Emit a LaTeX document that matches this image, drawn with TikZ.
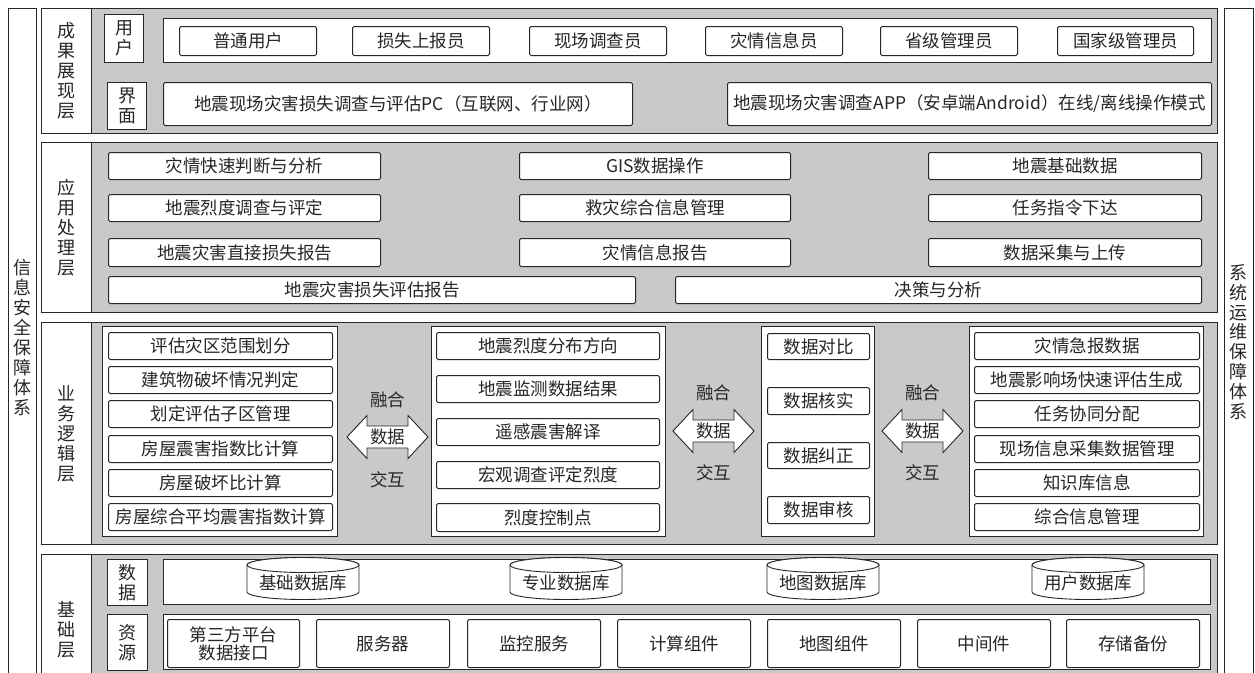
\documentclass[tikz,border=0pt]{standalone}
\usepackage{fontspec}
\setmainfont{Noto Sans CJK SC}
\newcommand\bx[7][]{\pgfmathsetmacro\myboxw{#5-#3}\pgfmathsetmacro\myboxh{#6-#4}%
  \node[box,inner sep=0pt,minimum width=\myboxw pt,minimum height=\myboxh pt,anchor=north west,#1] (#2) at (#3,#4) {#7};}
\newcommand\cyl[3]{% name cx text
  \draw[cylline] (#2-56,565) -- (#2-56,592) arc[start angle=180,end angle=0,x radius=56,y radius=7.5] -- (#2+56,565) arc[start angle=0,end angle=-180,x radius=56,y radius=7.5] -- cycle;
  \draw[cylline] (#2,565) ellipse[x radius=56,y radius=7.5];
  \node[txt] (#1) at (#2,583) {#3};}
\newcommand\darr[2]{% name cx cy
  \draw[cylline] (#2) ++(-40.5,0) -- ++(20,-21.5) -- ++(0,10.5) -- ++(41,0) -- ++(0,-10.5) -- ++(20,21.5) -- ++(-20,21.5) -- ++(0,-10.5) -- ++(-41,0) -- ++(0,10.5) -- cycle;
  \node[txt] (#1) at (#2) {数据};}
\begin{document}
\begin{tikzpicture}[x=1pt,y=-1pt,
  txt/.style={font=\fontsize{17.5}{20}\selectfont,text=black!85},
  box/.style={draw=black!85,fill=white,line width=1pt,rounded corners=1.5pt,txt},
  sq/.style={rounded corners=0pt},
  lay/.style={line width=1.3pt,fill=black!21,rounded corners=0pt},
  lab/.style={line width=1.1pt,rounded corners=0pt,align=center,font=\fontsize{18}{20}\selectfont},
  cylline/.style={draw=black!85,fill=white,line width=0.9pt},
]
\useasboundingbox (0,0) rectangle (1255,672);
% side columns
\bx[sq,line width=1.1pt]{secL}{8}{8}{36}{690}{}
\bx[sq,line width=1.1pt]{secR}{1224}{8}{1253}{690}{}
\node[txt,align=center,font=\fontsize{18}{19.9}\selectfont] (secLt) at (22,337.5) {信\\息\\安\\全\\保\\障\\体\\系};
\node[txt,align=center,font=\fontsize{18}{19.9}\selectfont] (secRt) at (1238.5,342) {系\\统\\运\\维\\保\\障\\体\\系};

% ===== Layer 1
\bx[lay]{L1}{41}{8}{1217}{133}{}
\bx[lab]{L1l}{41}{8}{91}{133}{成\\果\\展\\现\\层}
\bx[lab]{yh}{104}{14}{143}{62}{用\\户}
\bx[lab]{jm}{107}{82}{146}{129}{界\\面}
\bx[sq]{urow}{163}{18}{1211}{62}{}
\bx{u1}{179}{26}{316}{55}{普通用户}
\bx{u2}{352}{26}{489}{55}{损失上报员}
\bx{u3}{529}{26}{666}{55}{现场调查员}
\bx{u4}{705}{26}{842}{55}{灾情信息员}
\bx{u5}{880}{26}{1017}{55}{省级管理员}
\bx{u6}{1057}{26}{1193}{55}{国家级管理员}
\bx{pc}{163}{82}{632}{125}{地震现场灾害损失调查与评估PC（互联网、行业网）}
\bx{app}{727}{82}{1211}{125}{地震现场灾害调查APP（安卓端Android）在线/离线操作模式}

% ===== Layer 2
\bx[lay]{L2}{41}{142}{1217}{312}{}
\bx[lab]{L2l}{41}{142}{91}{312}{应\\用\\处\\理\\层}
\bx{a1}{108}{152}{380}{179}{灾情快速判断与分析}
\bx{a2}{108}{194}{380}{221}{地震烈度调查与评定}
\bx{a3}{108}{238}{380}{266}{地震灾害直接损失报告}
\bx{b1}{519}{152}{790}{179}{GIS数据操作}
\bx{b2}{519}{194}{790}{221}{救灾综合信息管理}
\bx{b3}{519}{238}{790}{266}{灾情信息报告}
\bx{c1}{928}{152}{1201}{179}{地震基础数据}
\bx{c2}{928}{194}{1201}{221}{任务指令下达}
\bx{c3}{928}{238}{1201}{266}{数据采集与上传}
\bx{a4}{108}{276}{635}{303}{地震灾害损失评估报告}
\bx{c4}{675}{276}{1201}{303}{决策与分析}

% ===== Layer 3
\bx[lay]{L3}{41}{322}{1217}{544}{}
\bx[lab]{L3l}{41}{322}{91}{544}{业\\务\\逻\\辑\\层}
\bx[sq]{g1}{102}{326}{337}{536}{}
\bx{g1a}{108}{332}{332}{359}{评估灾区范围划分}
\bx{g1b}{108}{366}{332}{393}{建筑物破坏情况判定}
\bx{g1c}{108}{400}{332}{427}{划定评估子区管理}
\bx{g1d}{108}{435}{332}{462}{房屋震害指数比计算}
\bx{g1e}{108}{469}{332}{496}{房屋破坏比计算}
\bx{g1f}{108}{503}{332}{530}{房屋综合平均震害指数计算}
\bx[sq]{g2}{431}{326}{665}{536}{}
\bx{g2a}{436}{332}{659}{359}{地震烈度分布方向}
\bx{g2b}{436}{375}{659}{402}{地震监测数据结果}
\bx{g2c}{436}{418}{659}{445}{遥感震害解译}
\bx{g2d}{436}{461}{659}{488}{宏观调查评定烈度}
\bx{g2e}{436}{503}{659}{531}{烈度控制点}
\bx[sq]{g3}{761}{326}{874}{536}{}
\bx{g3a}{767}{333}{869}{359}{数据对比}
\bx{g3b}{767}{387}{869}{414}{数据核实}
\bx{g3c}{767}{442}{869}{468}{数据纠正}
\bx{g3d}{767}{496}{869}{523}{数据审核}
\bx[sq]{g4}{969}{326}{1203}{536}{}
\bx{g4a}{974}{332}{1199}{359}{灾情急报数据}
\bx{g4b}{974}{366}{1199}{393}{地震影响场快速评估生成}
\bx{g4c}{974}{400}{1199}{427}{任务协同分配}
\bx{g4d}{974}{435}{1199}{462}{现场信息采集数据管理}
\bx{g4e}{974}{469}{1199}{496}{知识库信息}
\bx{g4f}{974}{503}{1199}{530}{综合信息管理}
\darr{ar1}{387.5,437}
\darr{ar2}{713.5,431}
\darr{ar3}{922.5,431}
\node[txt] (rh1) at (387.5,400) {融合};
\node[txt] (jh1) at (387.5,480) {交互};
\node[txt] (rh2) at (713.5,393) {融合};
\node[txt] (jh2) at (713.5,473) {交互};
\node[txt] (rh3) at (922.5,393) {融合};
\node[txt] (jh3) at (922.5,473) {交互};

% ===== Layer 4
\bx[lay]{L4}{41}{554}{1217}{690}{}
\bx[lab]{L4l}{41}{554}{91}{690}{}
\node[txt,align=center,font=\fontsize{18}{20}\selectfont] (L4t) at (66,630) {基\\础\\层};
\bx[lab]{sj}{107}{559}{147}{605}{数\\据}
\bx[lab]{zy}{107}{614}{147}{670}{资\\源}
\bx[sq]{drow}{163}{559}{1210}{604}{}
\bx[sq]{rrow}{163}{614}{1210}{669}{}
\cyl{db1}{303}{基础数据库}
\cyl{db2}{566}{专业数据库}
\cyl{db3}{823}{地图数据库}
\cyl{db4}{1088}{用户数据库}
\bx[align=center,font=\fontsize{17.5}{18}\selectfont]{r1}{167}{619}{299}{667}{第三方平台\\数据接口}
\bx{r2}{316}{619}{449}{667}{服务器}
\bx{r3}{467}{619}{600}{667}{监控服务}
\bx{r4}{617}{619}{750}{667}{计算组件}
\bx{r5}{767}{619}{900}{667}{地图组件}
\bx{r6}{917}{619}{1050}{667}{中间件}
\bx{r7}{1066}{619}{1199}{667}{存储备份}
\end{tikzpicture}
\end{document}
